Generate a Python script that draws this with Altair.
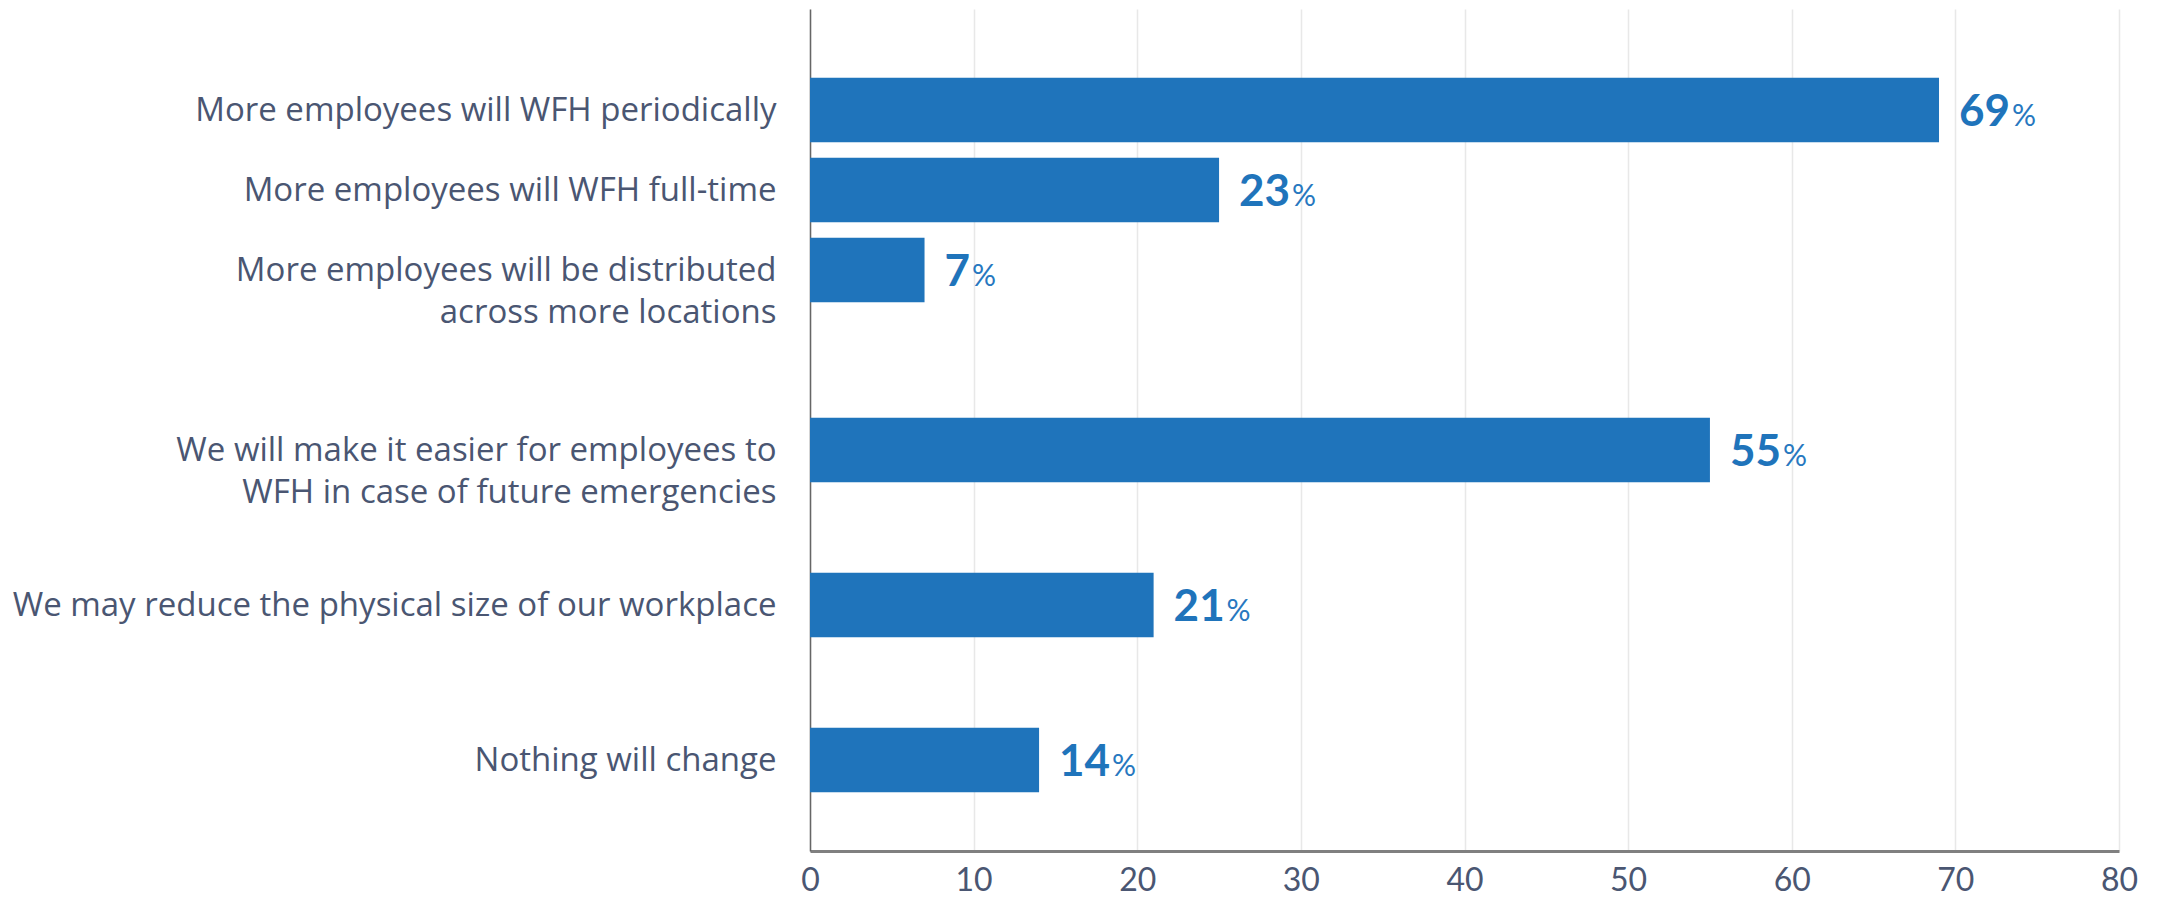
import altair as alt
import pandas as pd

# ---- data ----
categories = [
    "More employees will WFH periodically",
    "More employees will WFH full-time",
    "More employees will be distributed|across more locations",
    "We will make it easier for employees to|WFH in case of future emergencies",
    "We may reduce the physical size of our workplace",
    "Nothing will change",
]
bar_values = [69, 25, 7, 55, 21, 14]                 # drawn bar lengths
value_labels = ["69", "23", "7", "55", "21", "14"]   # printed labels
x_ticks = [0, 10, 20, 30, 40, 50, 60, 70, 80]

# ---- layout / style (uneven row gaps via empty slots on a point scale) ----
spacers_before = [20, 15, 15, 35, 30, 30]
spacers_after = 18
W, H = 1309, 842
X_MAX = 80
PX_PER_UNIT = W / X_MAX
DIGIT_W = 25.5
BLUE = "#1f74bb"
PCT_BLUE = "#2878c0"
TEXT = "#4a5672"
NUM_FONT = "Lato"
CAT_FONT = "Open Sans"

domain = []
for i, (c, g) in enumerate(zip(categories, spacers_before)):
    domain += [f"_sp{i}_{j}" for j in range(g)]
    domain.append(c)
domain += [f"_spend_{j}" for j in range(spacers_after)]

df = pd.DataFrame({"category": categories, "value": bar_values, "label": value_labels})

y_enc = alt.Y(
    "category:N",
    sort=None,
    scale=alt.Scale(type="point", domain=domain, padding=0.2),
    axis=alt.Axis(
        title=None, ticks=False, grid=False,
        domainColor="#666666", domainWidth=1.5,
        labelFont=CAT_FONT, labelFontSize=33, labelColor=TEXT,
        labelPadding=34, labelLimit=2000, labelOverlap=False,
        labelLineHeight=42,
        labelExpr="indexof(datum.value, '_sp') == 0 ? '' : split(datum.value, '|')",
    ),
)

x_axis = alt.Axis(
    title=None, values=x_ticks, ticks=False, grid=True,
    gridColor="#e8e8e8", gridWidth=1.5,
    domainColor="#808080", domainWidth=3,
    labelFont=NUM_FONT, labelFontSize=32, labelColor=TEXT,
    labelBaseline="alphabetic", labelPadding=39, labelFlush=False,
)
x_scale = alt.Scale(domain=[0, X_MAX], nice=False)

bars = alt.Chart(df).mark_bar(size=64.5, color=BLUE).encode(
    x=alt.X("value:Q", scale=x_scale, axis=x_axis),
    y=y_enc,
)

nums = alt.Chart(df).mark_text(
    align="left", baseline="alphabetic", dx=20, dy=16,
    font=NUM_FONT, fontSize=44, fontWeight="bold", color=BLUE,
).encode(
    x=alt.X("value:Q", scale=x_scale, axis=x_axis),
    y=y_enc,
    text="label:N",
)

pcts = alt.Chart(df).transform_calculate(
    pct_x=f"datum.value + length(datum.label) * {DIGIT_W} / {PX_PER_UNIT}"
).mark_text(
    align="left", baseline="alphabetic", dx=22, dy=16,
    font=NUM_FONT, fontSize=30, color=PCT_BLUE,
).encode(
    x=alt.X("pct_x:Q", scale=x_scale, axis=x_axis),
    y=y_enc,
    text=alt.value("%"),
)

chart = alt.layer(bars, nums, pcts).properties(
    width=W, height=H,
    autosize=alt.AutoSizeParams(type="none"),
    padding={"left": 802, "top": 1, "right": 40, "bottom": 46},
    background="white",
).configure_view(stroke=None)

chart.save("out.html", embed_options={"renderer": "svg", "actions": False})
